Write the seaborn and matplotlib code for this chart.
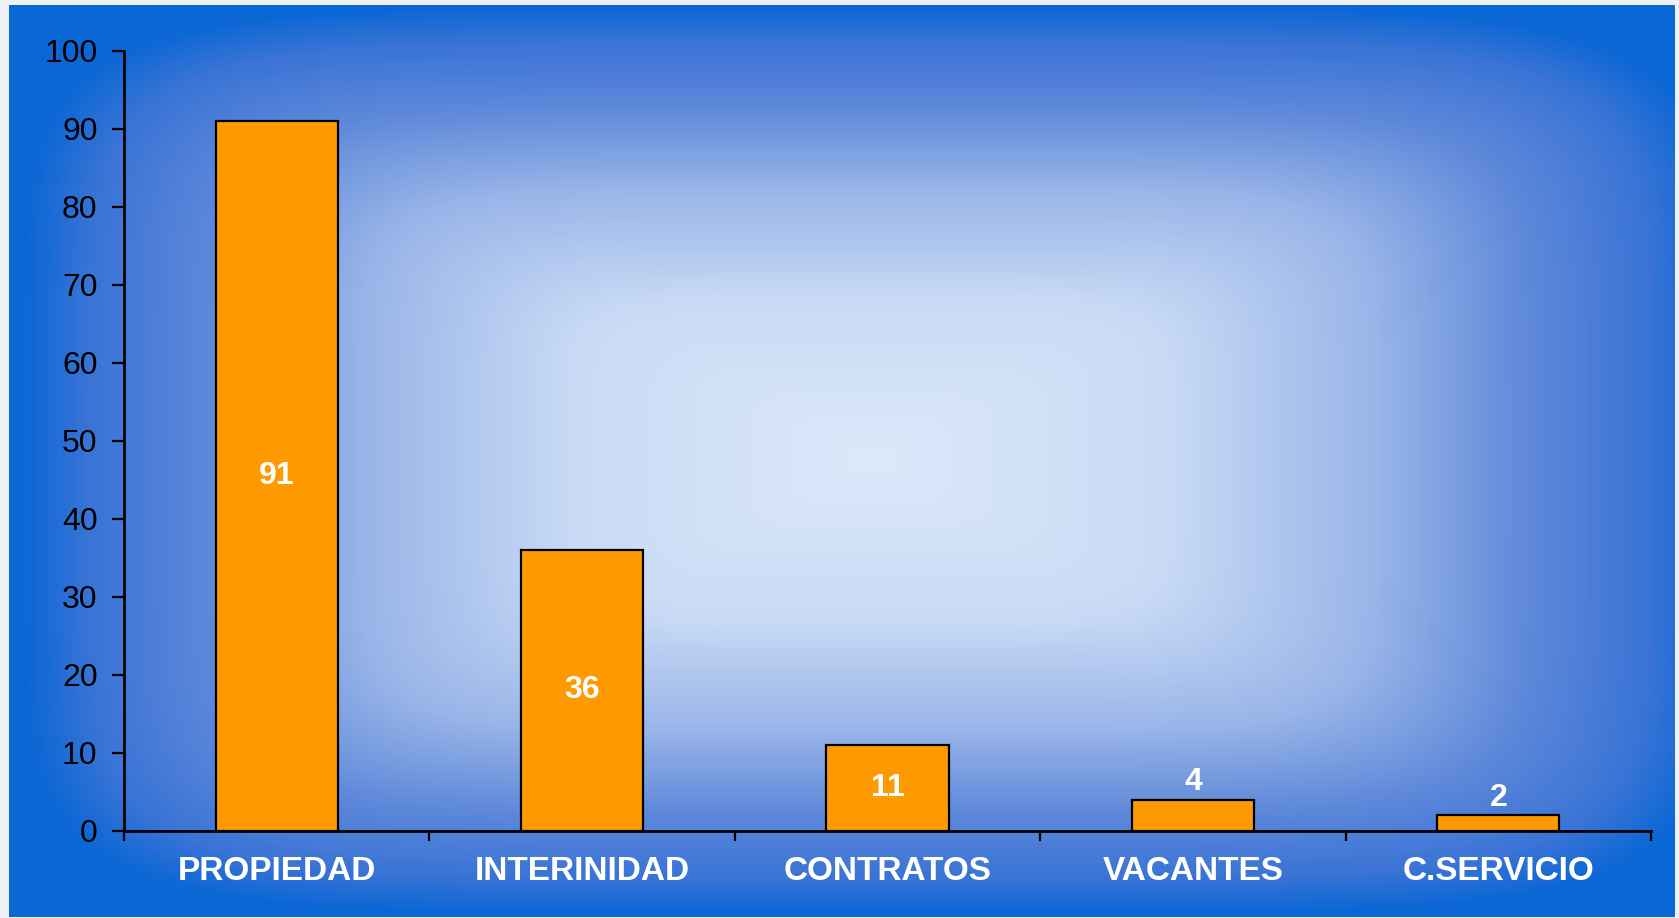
import matplotlib
matplotlib.use("Agg")
import matplotlib.pyplot as plt
import numpy as np
import seaborn as sns
from matplotlib.colors import LinearSegmentedColormap

# Datos del gráfico
categorias = ["PROPIEDAD", "INTERINIDAD", "CONTRATOS", "VACANTES", "C.SERVICIO"]
valores = [91, 36, 11, 4, 2]
ticks_y = [0, 10, 20, 30, 40, 50, 60, 70, 80, 90, 100]

sns.set_style("white")
plt.rcParams["font.family"] = ["Liberation Sans", "DejaVu Sans"]

fig = plt.figure(figsize=(16.79, 9.18), dpi=100, facecolor="#eef2f6")

# Fondo degradado desde el centro (tipo diapositiva)
fondo = fig.add_axes([9 / 1679, 1 / 918, 1666 / 1679, 912 / 918])
fondo.set_axis_off()
xx, yy = np.meshgrid(np.linspace(0, 1666, 833), np.linspace(0, 912, 456))
u = (xx - 861) / 850
v = (yy - 455) / 455
d = np.clip((np.abs(u) ** 6 + np.abs(v) ** 6) ** (1 / 6), 0, 1)
cmap = LinearSegmentedColormap.from_list(
    "fondo",
    [(0.0, "#dce9fa"), (0.35, "#c8daf5"), (0.6, "#98b4e8"),
     (0.78, "#5e88da"), (0.92, "#3a74d6"), (1.0, "#0b67d5")],
)
fondo.imshow(d, cmap=cmap, vmin=0, vmax=1, aspect="auto", interpolation="bilinear")

# Eje principal
ax = fig.add_axes([124 / 1679, 1 - 830.7 / 918, (1651 - 124) / 1679, (830.7 - 51) / 918])
ax.patch.set_alpha(0)

sns.barplot(x=categorias, y=valores, color="#FF9900", saturation=1, width=0.4,
            edgecolor="black", linewidth=1.6, ax=ax)

ax.set_xlim(-0.5, len(categorias) - 0.5)
ax.set_ylim(0, 100)
ax.set_yticks(ticks_y)
ax.set_xlabel("")
ax.set_ylabel("")

for s in ["top", "right"]:
    ax.spines[s].set_visible(False)
for s in ["left", "bottom"]:
    ax.spines[s].set_color("black")
    ax.spines[s].set_linewidth(2)

ax.tick_params(axis="y", direction="out", length=9, width=1.6, color="black",
               labelsize=23, labelcolor="black", pad=10, left=True)
ax.tick_params(axis="x", which="major", length=0, labelsize=24, labelcolor="white", pad=18)
for t in ax.get_xticklabels():
    t.set_fontweight("bold")
ax.set_xticks(np.arange(-0.5, len(categorias)), minor=True)
ax.tick_params(axis="x", which="minor", direction="out", length=7, width=1.6,
               color="black", bottom=True)

# Etiquetas de valores
for barra, val in zip(ax.patches, valores):
    cx = barra.get_x() + barra.get_width() / 2
    if val >= 10:
        ax.text(cx, val / 2, str(val), ha="center", va="center",
                color="white", fontsize=23, fontweight="bold")
    else:
        ax.text(cx, val + 0.3, str(val), ha="center", va="bottom",
                color="white", fontsize=23, fontweight="bold")

fig.savefig("out.png", dpi=100, facecolor=fig.get_facecolor())
